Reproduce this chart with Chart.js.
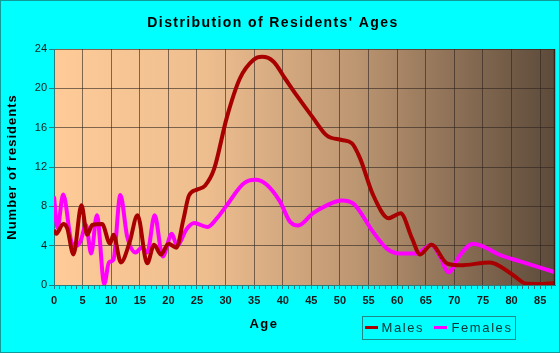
<!DOCTYPE html>
<html><head><meta charset="utf-8">
<style>html,body{margin:0;padding:0;background:#00FFFF;} canvas{display:block;}</style>
<script src="https://cdn.jsdelivr.net/npm/chart.js@4"></script>
</head><body>
<canvas id="c" width="560" height="353"></canvas>
<script>
const chartTitle = "Distribution of Residents' Ages";
const xTitle = 'Age';
const yTitle = 'Number of residents';
const seriesNames = ['Males', 'Females'];
const seriesColors = ['#A80000', '#FF00FF'];

const maleAges   = [0,0.4,1.6,2.3,3.4,4.8,5.8,6.7,8.4,9.8,10.4,11.7,13.2,14.6,16.3,17.5,18.7,20.0,21.4,22.6,23.6,25.0,26.4,28.0,30.2,32.5,34.9,36.4,38.4,40.4,42.4,45.3,47.7,50.3,52.1,53.5,55.8,58.5,60.6,62.6,64.0,66.0,68.7,71.0,76.2,80.3,82.5,84.5,87.6];
const maleCounts = [5.6,5.2,6.2,5.8,3.1,8.1,5.1,6.1,6.2,4.2,5.1,2.3,4.3,7.1,2.2,4.1,3.1,4.2,3.8,6.6,9.1,9.7,10.1,11.8,17.0,21.0,22.9,23.2,22.7,21.0,19.3,17.0,15.2,14.75,14.4,12.9,9.15,6.8,7.3,4.75,3.1,4.1,2.2,2.0,2.3,1.0,0.15,0.1,0.2];

const femaleAges   = [0,0.6,1.6,3.1,3.9,4.6,5.6,6.5,7.5,8.8,9.6,10.4,11.6,12.8,14.3,15.3,16.3,17.6,19.0,20.6,21.5,23.2,24.5,26.8,28.5,30.2,33.1,35.2,37.2,39.5,41.3,42.7,45.3,47.7,50.3,52.3,55.8,58.2,60.5,63.4,66.0,67.5,69.0,71.0,73.3,75.1,78.0,81.5,87.6];
const femaleCounts = [9.0,5.8,9.2,4.3,4.0,4.4,6.1,3.2,7.1,0.1,2.3,2.6,9.15,4.9,3.3,3.8,3.3,7.1,2.9,5.2,4.0,5.7,6.3,5.9,6.8,8.1,10.3,10.7,10.2,8.5,6.4,6.05,7.3,8.1,8.6,8.3,5.4,3.7,3.2,3.2,4.1,2.9,1.3,3.05,4.2,3.9,3.05,2.4,1.3];

const xMin = 0, xMax = 87.6, xLabelEvery = 5;
const yMin = 0, yMax = 24, yStep = 4;

const FONT = "'Liberation Sans', Arial, sans-serif";
const gridColor = 'rgba(45,35,30,0.6)';
const axisColor = '#2a7d7d';

function toPoints(xs, ys) { return xs.map((x, i) => ({x: x, y: ys[i]})); }

const decor = {
  id: 'decor',
  beforeDraw(chart) {
    const ctx = chart.ctx, a = chart.chartArea;
    ctx.save();
    ctx.fillStyle = '#00FFFF';
    ctx.fillRect(0, 0, chart.width, chart.height);
    const g = ctx.createLinearGradient(a.left, 0, a.right, 0);
    g.addColorStop(0, '#FECB98');
    g.addColorStop(0.3, '#EEBE8F');
    g.addColorStop(0.6, '#BD9672');
    g.addColorStop(1, '#5C4A3A');
    ctx.fillStyle = g;
    ctx.fillRect(a.left, a.top, a.right - a.left, a.bottom - a.top);
    ctx.restore();
  },
  afterDraw(chart) {
    const ctx = chart.ctx, a = chart.chartArea;
    ctx.save();
    ctx.strokeStyle = 'rgba(40,30,25,0.85)';
    ctx.lineWidth = 1.5;
    ctx.beginPath();
    ctx.moveTo(a.right - 0.5, a.top); ctx.lineTo(a.right - 0.5, a.bottom);
    ctx.stroke();
    ctx.strokeStyle = '#109a9a';
    ctx.lineWidth = 1;
    ctx.strokeRect(0.5, 0.5, chart.width - 1, chart.height - 1);

    ctx.fillStyle = '#000';
    ctx.textBaseline = 'middle';
    ctx.font = 'bold 14px ' + FONT;
    ctx.letterSpacing = '1.4px';
    ctx.textAlign = 'center';
    ctx.fillText(chartTitle, 273, 23);
    ctx.font = 'bold 13px ' + FONT;
    ctx.letterSpacing = '1.5px';
    ctx.fillText(xTitle, 264, 324);
    ctx.save();
    ctx.translate(12, (a.top + a.bottom) / 2);
    ctx.rotate(-Math.PI / 2);
    ctx.letterSpacing = '1px';
    ctx.fillText(yTitle, 0, 0);
    ctx.restore();

    ctx.strokeStyle = '#1a8a8a';
    ctx.lineWidth = 1;
    ctx.strokeRect(362.5, 316.5, 153, 23);
    const items = [
      {x: 365, tx: 381.5},
      {x: 434, tx: 451.5}
    ];
    ctx.font = '13px ' + FONT;
    ctx.letterSpacing = '1.6px';
    ctx.textAlign = 'left';
    items.forEach((it, i) => {
      ctx.strokeStyle = seriesColors[i];
      ctx.lineWidth = 3;
      ctx.beginPath();
      ctx.moveTo(it.x, 327.5); ctx.lineTo(it.x + 13, 327.5);
      ctx.stroke();
      ctx.fillStyle = '#0a3535';
      ctx.fillText(seriesNames[i], it.tx, 328);
    });
    ctx.restore();
  }
};

new Chart(document.getElementById('c'), {
  type: 'line',
  data: {
    datasets: [
      {label: seriesNames[0], data: toPoints(maleAges, maleCounts), borderColor: seriesColors[0], borderWidth: 4, pointRadius: 0, cubicInterpolationMode: 'monotone', fill: false},
      {label: seriesNames[1], data: toPoints(femaleAges, femaleCounts), borderColor: seriesColors[1], borderWidth: 4, pointRadius: 0, cubicInterpolationMode: 'monotone', fill: false}
    ]
  },
  options: {
    responsive: false,
    animation: false,
    devicePixelRatio: 1,
    layout: {padding: {top: 49, right: 5, left: 0, bottom: 0}},
    plugins: {legend: {display: false}, title: {display: false}, tooltip: {enabled: false}},
    scales: {
      x: {
        type: 'linear', min: xMin, max: xMax,
        afterFit: s => { s.height = 68; },
        ticks: {
          stepSize: 1, autoSkip: false, maxRotation: 0, includeBounds: false,
          callback: v => (v % xLabelEvery === 0 ? String(v) : ''),
          font: {family: FONT, size: 11, weight: 'bold'}, color: '#1a1a1a', padding: 5
        },
        grid: {
          color: c => (c.tick && c.tick.value % xLabelEvery === 0 ? gridColor : 'rgba(0,0,0,0)'),
          tickColor: axisColor, tickLength: 4
        },
        border: {color: axisColor, width: 1}
      },
      y: {
        min: yMin, max: yMax,
        afterFit: s => { s.width = 54; },
        ticks: {stepSize: yStep, font: {family: FONT, size: 11}, color: '#1a1a1a', padding: 2},
        grid: {color: gridColor, tickColor: axisColor, tickLength: 5},
        border: {color: axisColor, width: 1}
      }
    }
  },
  plugins: [decor]
});
</script>
</body></html>
